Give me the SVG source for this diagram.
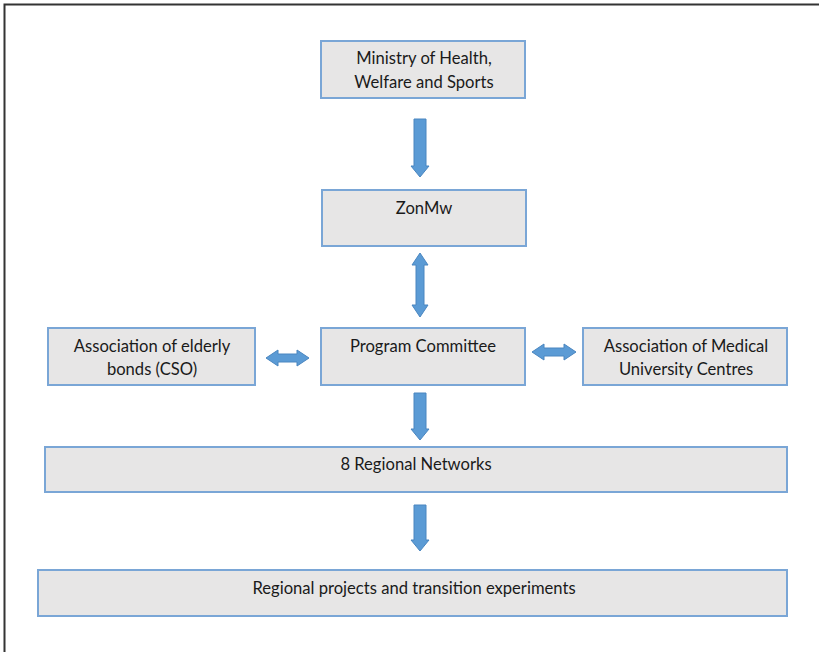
<svg xmlns="http://www.w3.org/2000/svg" width="819" height="652" viewBox="0 0 819 652">
<defs>
<style>
.box{fill:#e7e6e6;stroke:#7aa6d6;stroke-width:2}
.arr{fill:#5b9bd5;stroke:#4a86c0;stroke-width:1}
text{font-family:Lato,"Liberation Sans",sans-serif;font-size:16.6px;fill:#1a1a1a;text-anchor:middle}
</style>
</defs>
<rect width="819" height="652" fill="#ffffff"/>
<path d="M4.5,652 V4.5 H819" fill="none" stroke="#333" stroke-width="2"/>
<g id="ministry">
<rect class="box" x="321" y="41" width="204" height="57"/>
<text x="424" y="64">Ministry of Health,</text>
<text x="424" y="88">Welfare and Sports</text>
</g>
<g id="zonmw">
<rect class="box" x="322" y="190" width="204" height="56"/>
<text x="424" y="214">ZonMw</text>
</g>
<g id="program">
<rect class="box" x="321" y="328" width="204" height="57"/>
<text x="423" y="352">Program Committee</text>
</g>
<g id="elderly">
<rect class="box" x="48" y="328" width="207" height="57"/>
<text x="152" y="352">Association of elderly</text>
<text x="152" y="375">bonds (CSO)</text>
</g>
<g id="medical">
<rect class="box" x="583" y="328" width="204" height="57"/>
<text x="686" y="352">Association of Medical</text>
<text x="686" y="375">University Centres</text>
</g>
<g id="regional">
<rect class="box" x="45" y="447" width="742" height="45"/>
<text x="416" y="470">8 Regional Networks</text>
</g>
<g id="projects">
<rect class="box" x="38" y="570" width="749" height="46"/>
<text x="414" y="594">Regional projects and transition experiments</text>
</g>
<g id="connectors">
<path class="arr" d="M414,119 H426 V166 H429 L420,177 L411,166 H414 Z"/>
<path class="arr" d="M420,253 L428,265 H424 V305 H428 L420,317 L412,305 H416 V265 H412 Z"/>
<path class="arr" d="M266,358 L278,350 V354 H297 V350 L309,358 L297,366 V362 H278 V366 Z"/>
<path class="arr" d="M532,352 L544,344 V348 H564 V344 L576,352 L564,360 V356 H544 V360 Z"/>
<path class="arr" d="M414,393 H426 V429 H429 L420,440 L411,429 H414 Z"/>
<path class="arr" d="M414,505 H426 V540 H429 L420,551 L411,540 H414 Z"/>
</g>
</svg>
